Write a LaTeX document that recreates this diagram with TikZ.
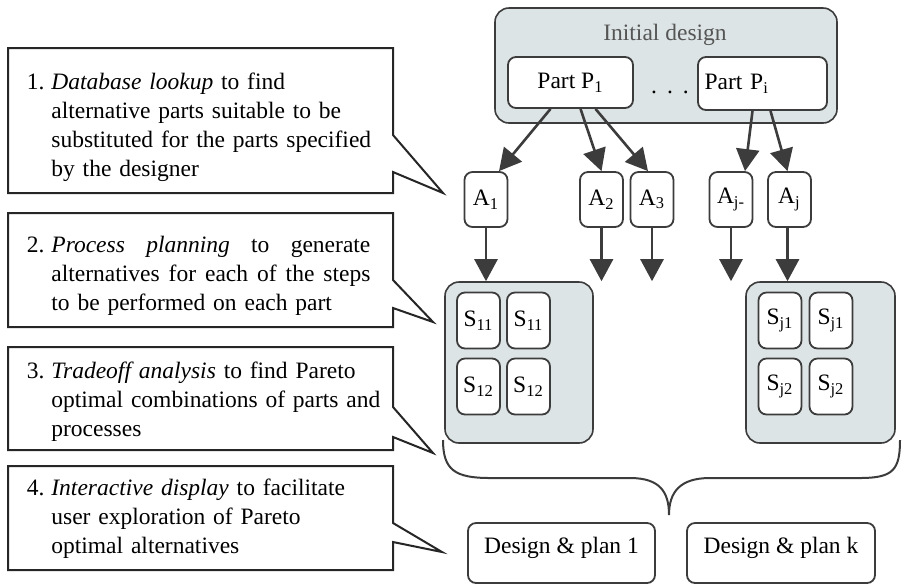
\documentclass[tikz,border=0pt]{standalone}
\usepackage{fontspec}
\setmainfont{Liberation Serif}
\usetikzlibrary{arrows.meta,positioning,calc}
\definecolor{groupfill}{RGB}{221,228,229}
\definecolor{edgegrey}{RGB}{60,60,60}
\definecolor{labelgrey}{RGB}{85,85,85}

\begin{document}
\begin{tikzpicture}[x=0.5pt,y=-0.5pt,
  font=\fontsize{11.75}{14.5}\selectfont,
  group/.style={draw=edgegrey, line width=0.8pt, fill=groupfill, rounded corners=7pt, inner sep=0pt},
  pbox/.style={draw=edgegrey, line width=0.9pt, fill=white, rounded corners=4pt, inner sep=2pt},
  abox/.style={pbox, minimum width=21.5pt, minimum height=27.5pt, inner sep=1pt},
  sbox/.style={pbox, minimum width=21.5pt, minimum height=28pt, inner sep=1pt},
  callout/.style={draw=black!85, line width=1pt, fill=white},
  note/.style={anchor=base west, text width=172pt, align=left, inner sep=0pt},
  arr/.style={draw=edgegrey, line width=1.3pt, -{Triangle[length=11pt,width=11.5pt]}}]

\useasboundingbox (0,0) rectangle (904,586);

% Callouts
\foreach \yt/\yb/\ya/\tx/\ty/\yc in {48/193/135/443/193/172, 213/327/280/433/322/308, 347/450/407/433/453/437, 466/570/523/442/552/542}
  \draw[callout] (8,\yt) -- (393,\yt) -- (393,\ya) -- (\tx,\ty) -- (393,\yc) -- (393,\yb) -- (8,\yb) -- cycle;

\node[note] (note1) at (51,89) {\leavevmode\llap{1.\hspace{3.5pt}}\emph{Database lookup} to find\\ alternative parts suitable to be\\ substituted for the parts specified\\ by the designer};
\node[note] (note2) at (51,252) {\leavevmode\llap{2.\hspace{3.5pt}}\makebox[159.5pt][l]{\emph{Process}\hfill\emph{planning}\hfill to\hfill generate}\\ \makebox[159.5pt][l]{alternatives\hfill for\hfill each\hfill of\hfill the\hfill steps}\\ to be performed on each part};
\node[note] (note3) at (51,378) {\leavevmode\llap{3.\hspace{3.5pt}}\emph{Tradeoff analysis} to find Pareto\\ optimal combinations of parts and\\ processes};
\node[note] (note4) at (51,495) {\leavevmode\llap{4.\hspace{3.5pt}}\emph{Interactive display} to facilitate\\ user exploration of Pareto\\ optimal alternatives};

% Initial design
\node[group, minimum width=171pt, minimum height=57.5pt] (init) at (666,65.5) {};
\node[text=labelgrey] (initlbl) at (665,35) {Initial design};
\node[pbox, minimum width=62.5pt, minimum height=25.5pt] (p1) at (570.5,82.5) {Part P\textsubscript{1}};
\node[pbox, minimum width=64.5pt, minimum height=26.5pt, text width=58pt, align=left, inner xsep=3pt] (pi) at (762.5,83.5) {Part P\textsubscript{i}};
\node (dots) at (670,92) {.\hspace{5pt}.\hspace{5pt}.};

% Alternatives
\foreach \n/\x/\lbl in {a1/486/1, a2/601.5/2, a3/652/3, ajm/731/j-, aj/789.5/j}
  \node[abox] (\n) at (\x,199.5) {A\textsubscript{\lbl}};

% Steps
\node[group, minimum width=74pt, minimum height=80.5pt] (sg1) at (519,362.5) {};
\node[group, minimum width=74.5pt, minimum height=80.5pt] (sgj) at (820.5,362.5) {};
\foreach \n/\x/\y/\lbl in {s1a/478.5/320.5/11, s1b/528.5/320.5/11, s1c/478.5/386.5/12, s1d/528.5/386.5/12,
    sja/780/320.5/j1, sjb/831/320.5/j1, sjc/780/386.5/j2, sjd/831/386.5/j2}
  \node[sbox] (\n) at (\x,\y) {S\textsubscript{\lbl}};

\draw[arr] ($(p1.south)+(-20,0)$) -- ($(a1.north)+(13,0)$);
\draw[arr] ($(p1.south)+(10,0)$) -- (a2.north);
\draw[arr] ($(p1.south)+(25,0)$) -- ($(a3.north)+(-4,0)$);
\draw[arr] ($(pi.south)+(-10,0)$) -- ($(ajm.north)+(14,0)$);
\draw[arr] ($(pi.south)+(8,0)$) -- ($(aj.north)+(-2,0)$);

\coordinate (a2end) at (a2.south |- sg1.north);
\coordinate (a3end) at (a3.south |- sg1.north);
\coordinate (ajmend) at (ajm.south |- sg1.north);
\draw[arr] (a1.south) -- (a1.south |- sg1.north);
\draw[arr] (a2.south) -- (a2end);
\draw[arr] (a3.south) -- (a3end);
\draw[arr] (ajm.south) -- (ajmend);
\draw[arr] ($(aj.south)+(-2,0)$) -- ($(aj.south |- sgj.north)+(-2,0)$);

% Brace
\draw[edgegrey, line width=1pt] (443,440) .. controls (443,470) and (455,478) .. (490,478) -- (630,478)
  .. controls (660,478) and (669,492) .. (669,515) .. controls (669,492) and (680,478) .. (710,478)
  -- (860,478) .. controls (893,478) and (900,470) .. (900,440);

% Results
\node[pbox, minimum width=93.5pt, minimum height=30pt, text depth=8pt] (plan1) at (561.5,553) {Design \& plan 1};
\node[pbox, minimum width=94pt, minimum height=30pt, text depth=8pt] (plank) at (781,553) {Design \& plan k};
\end{tikzpicture}
\end{document}
